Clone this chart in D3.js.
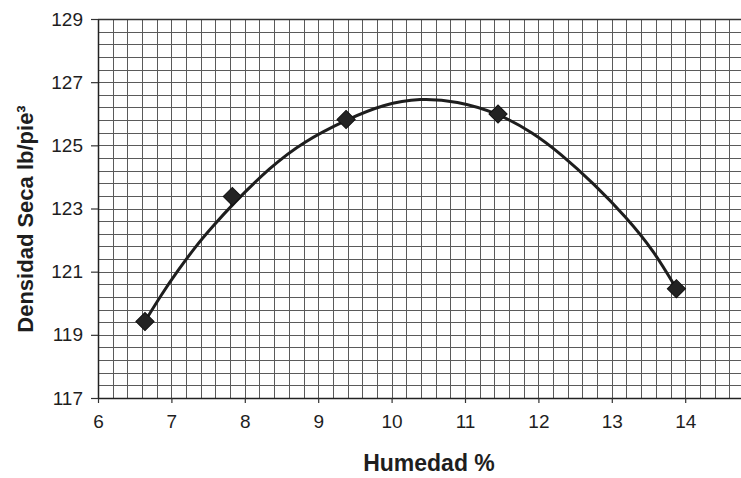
<!DOCTYPE html>
<html>
<head>
<meta charset="utf-8">
<script src="https://cdn.jsdelivr.net/npm/d3@7"></script>
<style>
  html, body { margin: 0; padding: 0; background: #fff; }
  svg { display: block; }
</style>
</head>
<body>
<svg id="chart" width="741" height="478"></svg>
<script>
// ---- data ----
const humedad = [6.64, 7.83, 9.38, 11.45, 13.88];
const densidad = [119.42, 123.38, 125.82, 125.99, 120.46];

// smooth trend curve
const curveX = [6.64, 6.87, 7.09, 7.32, 7.55, 7.84, 8.34, 8.80, 9.39, 9.89, 10.39, 10.89, 11.43, 11.93, 12.29, 12.75, 13.20, 13.57, 13.88];
const curveY = [119.43, 120.30, 121.04, 121.77, 122.40, 123.15, 124.30, 125.12, 125.82, 126.30, 126.50, 126.40, 126.04, 125.40, 124.76, 123.80, 122.72, 121.67, 120.46];

const xTicks = [6, 7, 8, 9, 10, 11, 12, 13, 14];
const yTicks = [117, 119, 121, 123, 125, 127, 129];

const xTitle = "Humedad %";
const yTitle = "Densidad Seca lb/pie³";

// ---- layout ----
const svg = d3.select("#chart");
const mLeft = 98, mTop = 19, mBottom = 398;
const x = d3.scaleLinear().domain([6, 7]).range([mLeft, mLeft + 73.4]);
const xMax = 14.9;
const y = d3.scaleLinear().domain([117, 129]).range([mBottom, mTop]);

const gridColor = "#5a5a5a";
const ink = "#1e1e1e";

// grid
const grid = svg.append("g");
const vLines = d3.range(0, Math.round((xMax - 6) / 0.2) + 1).map(i => 6 + i * 0.2);
const hLines = d3.range(0, 31).map(i => 117 + i * 0.4);
grid.selectAll("line.v").data(vLines).join("line")
  .attr("x1", d => Math.round(x(d)) + 0.5).attr("x2", d => Math.round(x(d)) + 0.5)
  .attr("y1", mTop).attr("y2", mBottom)
  .attr("stroke", gridColor).attr("stroke-width", 1);
grid.selectAll("line.h").data(hLines).join("line")
  .attr("x1", mLeft).attr("x2", x(xMax))
  .attr("y1", d => Math.round(y(d)) + 0.5).attr("y2", d => Math.round(y(d)) + 0.5)
  .attr("stroke", gridColor).attr("stroke-width", 1);

// top border
svg.append("line").attr("x1", mLeft).attr("x2", x(xMax)).attr("y1", mTop + 0.5).attr("y2", mTop + 0.5)
  .attr("stroke", "#333").attr("stroke-width", 1.5);

// axes
const fontFam = "Arial, 'Liberation Sans', Helvetica, sans-serif";
const xAxis = svg.append("g").attr("transform", `translate(0,${mBottom})`)
  .call(d3.axisBottom(x).tickValues(xTicks).tickFormat(d3.format("d")).tickSize(5).tickSizeOuter(0).tickPadding(12));
xAxis.select(".domain").attr("d", `M${mLeft},0.5H${x(xMax)}`).attr("stroke", "#222").attr("stroke-width", 1.5);
const yAxis = svg.append("g").attr("transform", `translate(${mLeft},0)`)
  .call(d3.axisLeft(y).tickValues(yTicks).tickFormat(d3.format("d")).tickSize(7).tickSizeOuter(0).tickPadding(8));
yAxis.select(".domain").attr("stroke", "#222").attr("stroke-width", 1.5);
[xAxis, yAxis].forEach(g => {
  g.selectAll(".tick line").attr("stroke", "#333").attr("stroke-width", 1.2);
  g.selectAll(".tick text").attr("fill", ink).style("font-family", fontFam).style("font-size", "19px");
});

// curve
const pts = curveX.map((d, i) => [d, curveY[i]]);
svg.append("path").datum(pts)
  .attr("d", d3.line().x(d => x(d[0])).y(d => y(d[1])).curve(d3.curveBasis))
  .attr("fill", "none").attr("stroke", ink).attr("stroke-width", 3);

// markers
const diamond = d3.symbol().type(d3.symbolSquare).size(165);
svg.selectAll("path.pt").data(humedad.map((d, i) => [d, densidad[i]])).join("path")
  .attr("class", "pt")
  .attr("d", diamond)
  .attr("transform", d => `translate(${x(d[0])},${y(d[1])}) rotate(45)`)
  .attr("fill", "#232323").attr("stroke", "#111").attr("stroke-width", 1);

// titles
svg.append("text").attr("x", 429).attr("y", 471).attr("text-anchor", "middle")
  .style("font-family", fontFam).style("font-weight", "bold").style("font-size", "23px")
  .attr("fill", ink).text(xTitle);
svg.append("text").attr("transform", "translate(33,219) rotate(-90)").attr("text-anchor", "middle")
  .style("font-family", fontFam).style("font-weight", "bold").style("font-size", "22px")
  .attr("fill", ink).text(yTitle);
</script>
</body>
</html>
